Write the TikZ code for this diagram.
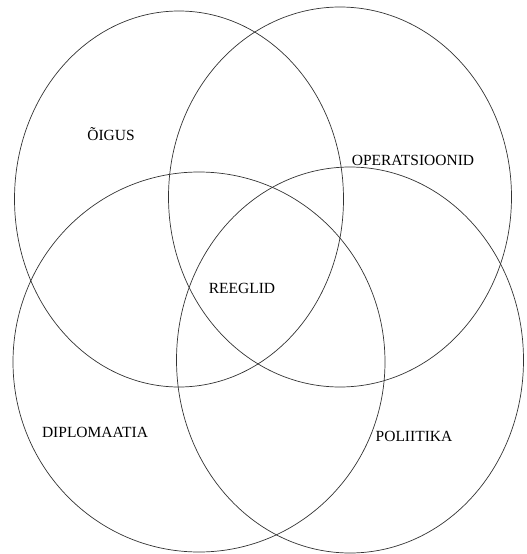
\documentclass[tikz,border=0pt]{standalone}
\usepackage{fontspec}
\setmainfont{Liberation Serif}
\begin{document}
\begin{tikzpicture}[x=1pt,y=-1pt,
  ring/.style={draw=black!80,line width=0.7pt},
  lbl/.style={font=\fontsize{15.5}{18}\selectfont,anchor=base,inner sep=0pt}]
\useasboundingbox (0,0) rectangle (527,554);
\draw[ring] (179,199) ellipse [x radius=164.5,y radius=188];
\draw[ring] (340,197) ellipse [x radius=171.5,y radius=190];
\draw[ring] (199,362) ellipse [x radius=186,y radius=190];
\draw[ring] (350,360) ellipse [x radius=173.5,y radius=193];
\node[lbl] (oigus) at (111,140) {ÕIGUS};
\node[lbl] (oper) at (413,165) {OPERATSIOONID};
\node[lbl] (reeglid) at (242,293) {REEGLID};
\node[lbl] (diplo) at (95,437) {DIPLOMAATIA};
\node[lbl] (poli) at (414,441) {POLIITIKA};
\end{tikzpicture}
\end{document}
